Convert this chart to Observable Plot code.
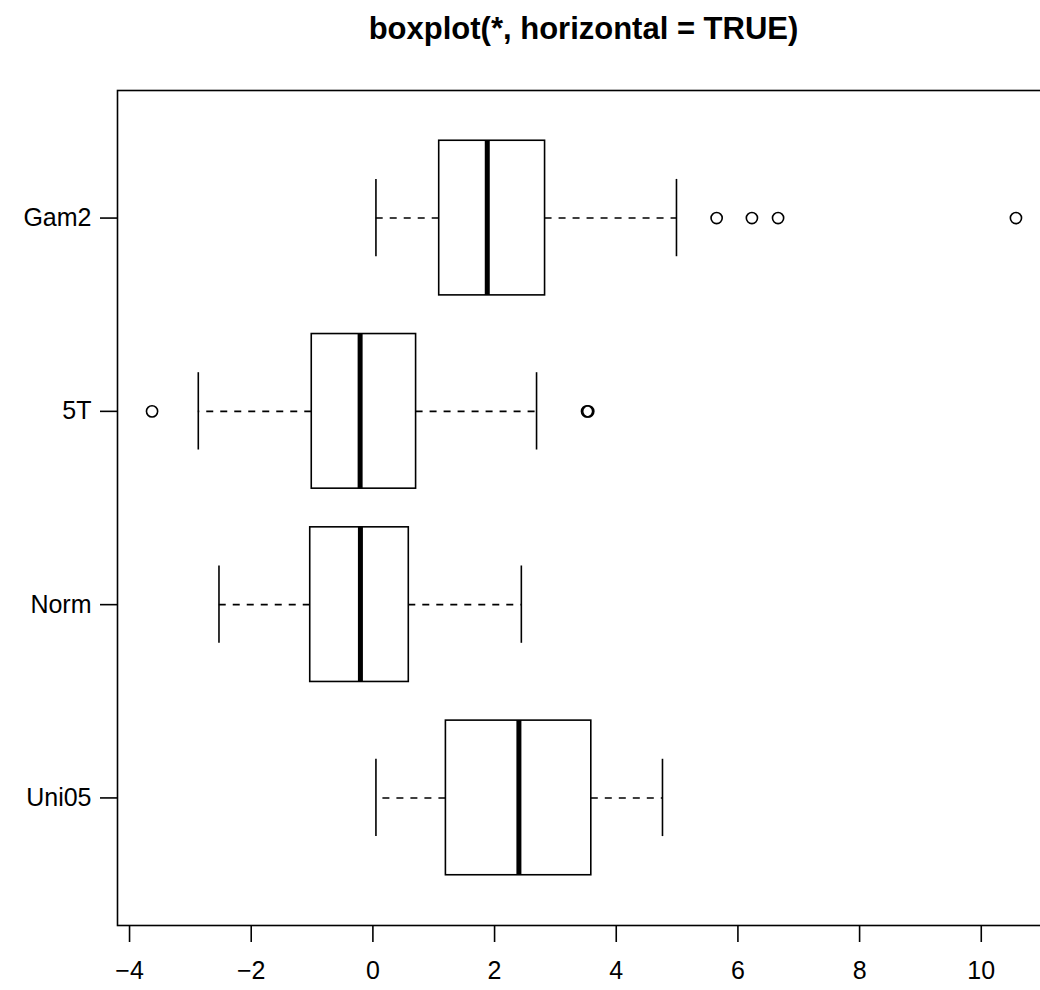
<!DOCTYPE html>
<html>
<head>
<meta charset="utf-8">
<script src="https://cdn.jsdelivr.net/npm/d3@7"></script>
<script src="https://cdn.jsdelivr.net/npm/@observablehq/plot@0.6"></script>
<style>
  html, body { margin: 0; padding: 0; background: white; overflow: hidden; }
  #wrap { position: relative; width: 1040px; height: 990px; overflow: hidden; background: white; }
  #title { position: absolute; left: 0; top: 13px; width: 1167px; text-align: center;
           font: bold 31px "Liberation Sans", Arial, Helvetica, sans-serif; line-height: 1; color: black; }
  #chart { position: absolute; left: 0; top: 0; }
</style>
</head>
<body>
<div id="wrap">
  <div id="chart"></div>
  <div id="title">boxplot(*, horizontal = TRUE)</div>
</div>
<script>
// Groups, bottom to top
const categories = ["Uni05", "Norm", "5T", "Gam2"];
const lowerWhisker = [0.05, -2.53, -2.87, 0.05];
const q1 = [1.20, -1.03, -1.005, 1.09];
const median = [2.40, -0.205, -0.21, 1.88];
const q3 = [3.59, 0.59, 0.71, 2.83];
const upperWhisker = [4.76, 2.44, 2.69, 4.99];
// Outliers
const outlierGroup = ["5T", "5T", "5T", "Gam2", "Gam2", "Gam2", "Gam2"];
const outlierValue = [-3.63, 3.52, 3.54, 5.65, 6.23, 6.66, 10.57];
// Axis ticks
const xTicks = [-4, -2, 0, 2, 4, 6, 8, 10];

const boxes = categories.map((c, i) => ({
  cat: c, pos: i + 1,
  lw: lowerWhisker[i], q1: q1[i], med: median[i], q3: q3[i], uw: upperWhisker[i]
}));
const outliers = outlierValue.map((v, i) => ({ v, pos: categories.indexOf(outlierGroup[i]) + 1 }));

// R-style 4% axis extension
const allVals = [...lowerWhisker, ...upperWhisker, ...outlierValue];
const [mn, mx] = d3.extent(allVals);
const ext = (mx - mn) * 0.04;
const xDomain = [mn - ext, mx + ext];
const yExt = categories.length * 0.04;
const yDomain = [0.5 - yExt, categories.length + 0.5 + yExt];

const halfBox = 0.4, halfStaple = 0.2;
const lw = 1.6;

const plot = Plot.plot({
  width: 1052,
  height: 990,
  marginTop: 90,
  marginBottom: 65,
  marginLeft: 117,
  marginRight: 2,
  style: { fontFamily: '"Liberation Sans", Arial, Helvetica, sans-serif', fontSize: "25px", background: "white", color: "black" },
  x: { domain: xDomain, label: null },
  y: { domain: yDomain, label: null },
  marks: [
    // whiskers (dashed)
    Plot.ruleY(boxes, { y: "pos", x1: "q1", x2: "lw", stroke: "black", strokeWidth: lw, strokeDasharray: "7,7" }),
    Plot.ruleY(boxes, { y: "pos", x1: "q3", x2: "uw", stroke: "black", strokeWidth: lw, strokeDasharray: "7,7" }),
    // staples
    Plot.ruleX(boxes, { x: "lw", y1: d => d.pos - halfStaple, y2: d => d.pos + halfStaple, stroke: "black", strokeWidth: lw }),
    Plot.ruleX(boxes, { x: "uw", y1: d => d.pos - halfStaple, y2: d => d.pos + halfStaple, stroke: "black", strokeWidth: lw }),
    // boxes
    Plot.rect(boxes, { x1: "q1", x2: "q3", y1: d => d.pos - halfBox, y2: d => d.pos + halfBox, fill: "white", stroke: "black", strokeWidth: lw }),
    // medians
    Plot.ruleX(boxes, { x: "med", y1: d => d.pos - halfBox, y2: d => d.pos + halfBox, stroke: "black", strokeWidth: 5 }),
    // outliers
    Plot.dot(outliers, { x: "v", y: "pos", r: 5.6, stroke: "black", strokeWidth: lw, fill: "none" }),
    // frame
    Plot.frame({ stroke: "black", strokeWidth: lw }),
    // axes
    Plot.axisX({ ticks: xTicks, tickSize: 17, tickPadding: 19, strokeWidth: lw, label: null, tickFormat: d3.format("") }),
    Plot.axisY({ ticks: categories.map((c, i) => i + 1), tickFormat: d => categories[d - 1], tickSize: 17, tickPadding: 9, strokeWidth: lw, label: null })
  ]
});
plot.style.maxWidth = "none";
document.getElementById("chart").appendChild(plot);
</script>
</body>
</html>
